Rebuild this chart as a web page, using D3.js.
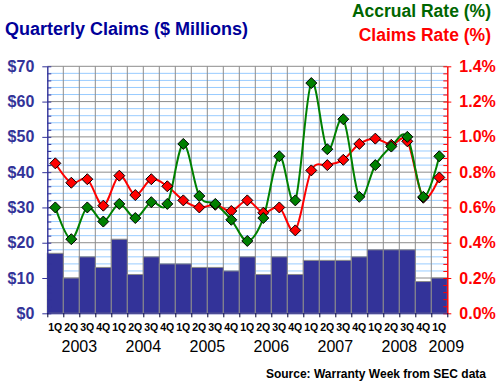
<!DOCTYPE html>
<html>
<head>
<meta charset="utf-8">
<script src="https://cdn.jsdelivr.net/npm/d3@7"></script>
<style>
  body { margin: 0; background: #fff; }
  svg { display: block; font-family: "Liberation Sans", Arial, sans-serif; }
</style>
</head>
<body>
<svg id="chart" width="500" height="386"></svg>
<script>
const quarterLabels = ["1Q","2Q","3Q","4Q","1Q","2Q","3Q","4Q","1Q","2Q","3Q","4Q",
                       "1Q","2Q","3Q","4Q","1Q","2Q","3Q","4Q","1Q","2Q","3Q","4Q","1Q"];
const years = ["2003","2004","2005","2006","2007","2008","2009"];
const claims = [17,10,16,13, 21,11,16,14, 14,13,13,12, 16,11,16,11, 15,15,15,16, 18,18,18,9, 10];
const accrualRate = [0.60,0.42,0.60,0.52, 0.62,0.54,0.63,0.62, 0.96,0.665,0.62,0.53,
                     0.41,0.54,0.89,0.64, 1.305,0.93,1.10,0.66, 0.84,0.945,1.0,0.66, 0.89];
const claimsRate = [0.85,0.74,0.76,0.61, 0.78,0.67,0.76,0.72, 0.64,0.60,0.615,0.58,
                    0.64,0.57,0.60,0.47, 0.81,0.84,0.87,0.96, 0.99,0.955,0.975,0.655, 0.77];
const leftTicks = [0,10,20,30,40,50,60,70];
const rightTicks = [0,0.2,0.4,0.6,0.8,1.0,1.2,1.4];

let dimensions = (svg, m) =>
    ({width: +svg.attr("width"), height: +svg.attr("height"), margin: m,
      innerWidth: +svg.attr("width") - m.left - m.right,
      innerHeight: +svg.attr("height") - m.top - m.bottom});

const svg = d3.select("#chart");
const dim = dimensions(svg, {top: 66.3, left: 47.3, right: 52.7, bottom: 72.7});

const n = claims.length;
const x = d3.scaleBand().domain(d3.range(n)).range([0, dim.innerWidth]);
const xEdge = d3.scaleLinear().domain([0, n]).range([0, dim.innerWidth]);
const y = d3.scaleLinear().domain([0, 70]).range([dim.innerHeight, 0]);
const yR = d3.scaleLinear().domain([0, 1.4]).range([dim.innerHeight, 0]);
const cx = i => x(i) + x.bandwidth() / 2;

// titles
svg.append("text").attr("x", 5).attr("y", 35)
    .attr("font-size", 18).attr("font-weight", "bold").attr("fill", "#000099")
    .text("Quarterly Claims ($ Millions)");
svg.append("text").attr("x", 491).attr("y", 17).attr("text-anchor", "end")
    .attr("font-size", 17.5).attr("font-weight", "bold").attr("fill", "#006600")
    .text("Accrual Rate (%)");
svg.append("text").attr("x", 491).attr("y", 41).attr("text-anchor", "end")
    .attr("font-size", 17.5).attr("font-weight", "bold").attr("fill", "#ff0000")
    .text("Claims Rate (%)");

const g = svg.append("g")
    .attr("transform", `translate(${dim.margin.left}, ${dim.margin.top})`);

// grid
g.selectAll(".hminor").data(d3.range(0, 71, 2).filter(v => v % 10 !== 0))
    .enter().append("line")
    .attr("x1", 0).attr("x2", dim.innerWidth)
    .attr("y1", d => y(d)).attr("y2", d => y(d))
    .attr("stroke", "#99ccff");
g.selectAll(".hmajor").data(leftTicks)
    .enter().append("line")
    .attr("x1", 0).attr("x2", dim.innerWidth)
    .attr("y1", d => y(d)).attr("y2", d => y(d))
    .attr("stroke", "#8c8c8c");
g.selectAll(".vgrid").data(d3.range(1, n))
    .enter().append("line")
    .attr("x1", d => xEdge(d)).attr("x2", d => xEdge(d))
    .attr("y1", 0).attr("y2", dim.innerHeight)
    .attr("stroke", "#8c8c8c");

// bars
g.selectAll(".bar").data(claims)
    .enter().append("rect")
    .attr("x", (d, i) => x(i))
    .attr("y", d => y(d))
    .attr("width", x.bandwidth())
    .attr("height", d => dim.innerHeight - y(d))
    .attr("fill", "#333399")
    .attr("stroke", "#8c8c8c");

// axes
const styleAxis = (sel, color) => {
    sel.selectAll("path, line").attr("stroke", color);
    sel.selectAll("text").attr("fill", color)
        .attr("font-size", 16).attr("font-weight", "bold")
        .attr("font-family", "Liberation Sans, Arial, sans-serif");
};

g.append("g")
    .call(d3.axisLeft(y).tickValues(d3.range(0, 71, 2)).tickSize(-4).tickSizeOuter(0).tickFormat(""))
    .call(s => styleAxis(s, "#333399"));
g.append("g")
    .call(d3.axisLeft(y).tickValues(leftTicks).tickSize(5).tickSizeOuter(0)
          .tickPadding(8).tickFormat(d => "$" + d))
    .call(s => styleAxis(s, "#333399"));

g.append("g").attr("transform", `translate(${dim.innerWidth}, 0)`)
    .call(d3.axisRight(yR).tickValues(d3.range(0, 71, 2).map(v => v / 50)).tickSize(-4).tickSizeOuter(0).tickFormat(""))
    .call(s => styleAxis(s, "#ff0000"));
g.append("g").attr("transform", `translate(${dim.innerWidth}, 0)`)
    .call(d3.axisRight(yR).tickValues(rightTicks).tickSize(4).tickSizeOuter(0)
          .tickPadding(8).tickFormat(d3.format(".1%")).tickFormat(d => d.toFixed(1) + "%"))
    .call(s => styleAxis(s, "#ff0000"));

g.append("g").attr("transform", `translate(0, ${dim.innerHeight})`)
    .call(d3.axisBottom(xEdge).tickValues(d3.range(0, n + 1)).tickSize(4).tickSizeOuter(0).tickFormat(""))
    .call(s => s.selectAll("line").attr("stroke", "#000033"))
    .call(s => s.select(".domain").attr("stroke", "#333399"));

g.selectAll(".qlabel").data(quarterLabels)
    .enter().append("text")
    .attr("x", (d, i) => cx(i))
    .attr("y", dim.innerHeight + 18)
    .attr("text-anchor", "middle")
    .attr("font-size", 10.5).attr("font-weight", "bold")
    .text(d => d);

g.selectAll(".ylabel").data(years)
    .enter().append("text")
    .attr("x", (d, i) => {
        const first = i * 4, last = Math.min(first + 3, n - 1);
        const mid = (xEdge(first) + xEdge(last + 1)) / 2;
        return last === first ? mid + 7 : mid;
    })
    .attr("y", dim.innerHeight + 38.5)
    .attr("text-anchor", "middle")
    .attr("font-size", 16)
    .text(d => d);

// rate lines
const line = scale => d3.line()
    .x((d, i) => cx(i))
    .y(d => scale(d))
    .curve(d3.curveCardinal);

g.append("path").attr("d", line(yR)(claimsRate))
    .attr("fill", "none").attr("stroke", "#ff0000").attr("stroke-width", 2);
g.append("path").attr("d", line(yR)(accrualRate))
    .attr("fill", "none").attr("stroke", "#008000").attr("stroke-width", 2);

const diamond = "M0,-5.5L5.5,0L0,5.5L-5.5,0Z";
const markers = (data, color) => g.append("g").selectAll("path").data(data)
    .enter().append("path")
    .attr("d", diamond)
    .attr("transform", (d, i) => `translate(${cx(i)}, ${yR(d)})`)
    .attr("fill", color).attr("stroke", "#000").attr("stroke-width", 1);

markers(claimsRate, "#ff0000");
markers(accrualRate, "#008000");

svg.append("text").attr("x", 486).attr("y", 378).attr("text-anchor", "end")
    .attr("font-size", 12).attr("font-weight", "bold").attr("fill", "#000")
    .text("Source: Warranty Week from SEC data");
</script>
</body>
</html>
